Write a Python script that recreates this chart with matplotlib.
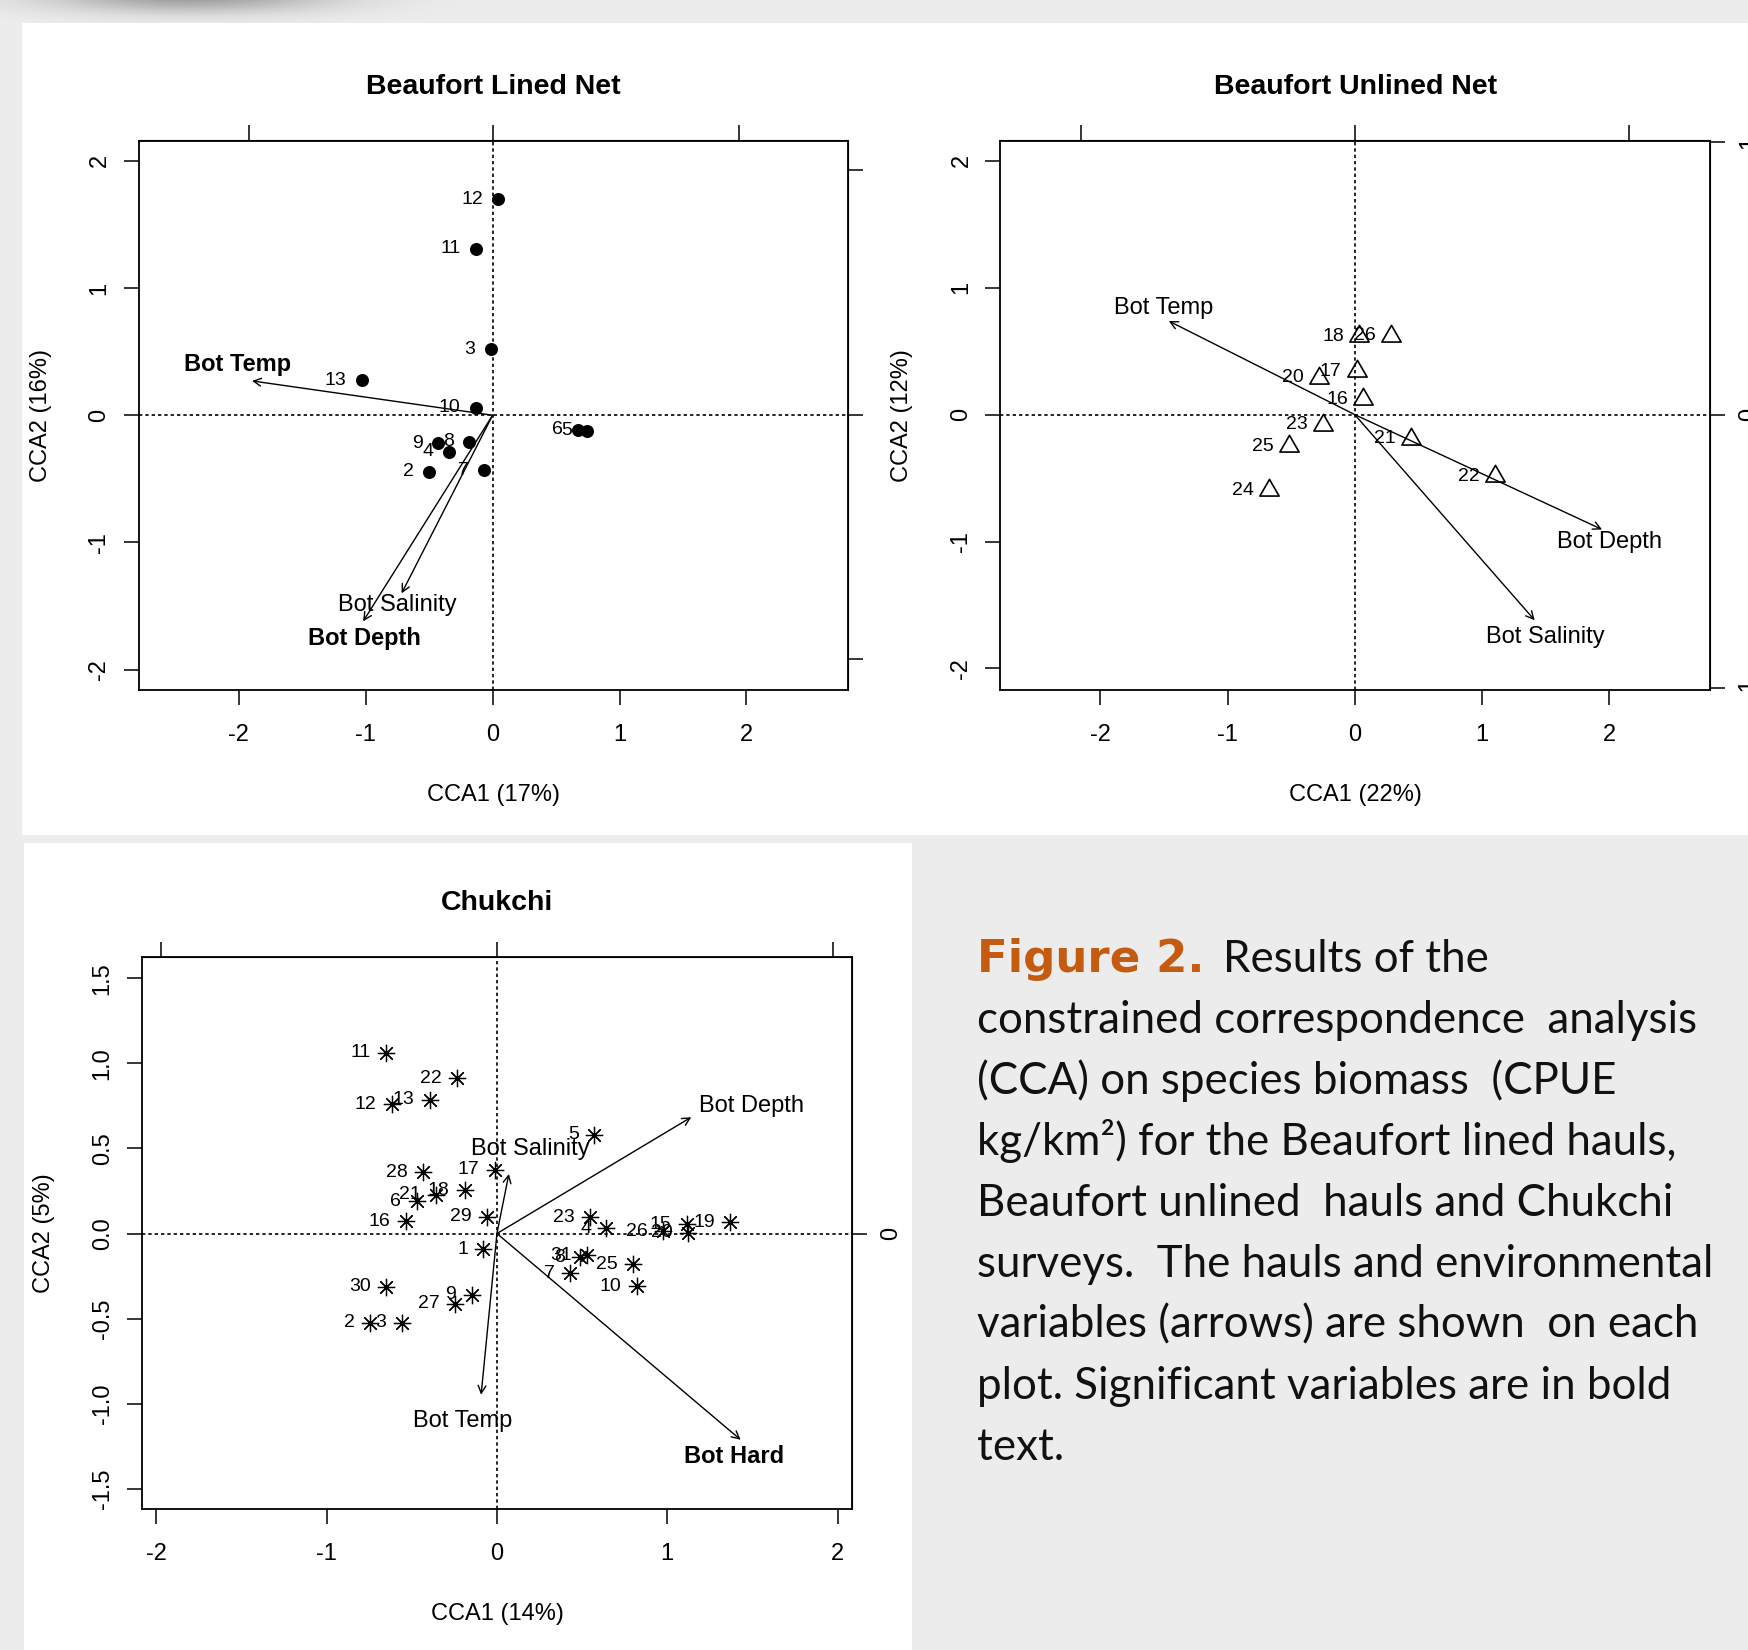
import numpy as np
import matplotlib
matplotlib.use('Agg')
import matplotlib.pyplot as plt
from matplotlib.patches import Rectangle
from matplotlib.path import Path

plt.rcParams['font.family'] = ['Liberation Sans', 'DejaVu Sans']

# ---------------------------------------------------------------- data
# Beaufort lined net (sites)
bl_lab = ['12', '11', '3', '13', '10', '9', '4', '8', '2', '7', '6', '5']
bl_x = [0.045, -0.127, -0.016, -1.032, -0.134, -0.433, -0.347, -0.184, -0.50, -0.069, 0.675, 0.745]
bl_y = [1.70, 1.31, 0.519, 0.275, 0.060, -0.22, -0.288, -0.21, -0.446, -0.432, -0.115, -0.123]
bl_env = ['Bot Temp', 'Bot Salinity', 'Bot Depth']
bl_env_x = [-1.896, -0.717, -1.02]
bl_env_y = [0.27, -1.40, -1.62]
bl_env_lx = [-2.01, -0.75, -1.007]
bl_env_ly = [0.40, -1.495, -1.756]
bl_env_bold = [True, False, True]

# Beaufort unlined net (sites)
bu_lab = ['18', '26', '17', '20', '16', '23', '25', '24', '21', '22']
bu_x = [0.036, 0.285, 0.017, -0.284, 0.067, -0.248, -0.515, -0.672, 0.44, 1.105]
bu_y = [0.616, 0.622, 0.341, 0.289, 0.123, -0.079, -0.25, -0.596, -0.191, -0.486]
bu_env = ['Bot Temp', 'Bot Depth', 'Bot Salinity']
bu_env_x = [-1.462, 1.945, 1.415]
bu_env_y = [0.737, -0.905, -1.62]
bu_env_lx = [-1.50, 2.0, 1.50]
bu_env_ly = [0.84, -1.0, -1.756]
bu_env_bold = [False, False, False]

# Chukchi (sites)
ch_lab = ['11', '22', '12', '13', '5', '28', '17', '18', '21', '6', '16', '29', '23', '4',
          '15', '19', '20', '26', '8', '31', '7', '25', '10', '1', '30', '9', '27', '2', '3']
ch_x = [-0.652, -0.237, -0.618, -0.393, 0.570, -0.433, -0.012, -0.188, -0.358, -0.472, -0.534,
        -0.061, 0.545, 0.642, 1.114, 1.37, 1.12, 0.977, 0.487, 0.530, 0.429, 0.797, 0.820,
        -0.08, -0.652, -0.149, -0.247, -0.746, -0.56]
ch_y = [1.063, 0.912, 0.759, 0.788, 0.582, 0.361, 0.376, 0.255, 0.229, 0.19, 0.073, 0.098,
        0.097, 0.03, 0.053, 0.067, 0.004, 0.014, -0.139, -0.129, -0.235, -0.182, -0.31,
        -0.094, -0.314, -0.359, -0.412, -0.525, -0.525]
ch_env = ['Bot Depth', 'Bot Salinity', 'Bot Temp', 'Bot Hard']
ch_env_x = [1.141, 0.070, -0.093, 1.431]
ch_env_y = [0.684, 0.350, -0.948, -1.213]
ch_env_lx = [1.493, 0.194, -0.203, 1.39]
ch_env_ly = [0.748, 0.498, -1.10, -1.313]
ch_env_bold = [False, False, False, True]

caption = ['constrained correspondence  analysis',
           '(CCA) on species biomass  (CPUE',
           'kg/km\u00b2) for the Beaufort lined hauls,',
           'Beaufort unlined  hauls and Chukchi',
           'surveys.  The hauls and environmental',
           'variables (arrows) are shown  on each',
           'plot. Significant variables are in bold',
           'text.']

# ---------------------------------------------------------------- layout
W, H = 1749, 1650
fig = plt.figure(figsize=(W / 100, H / 100), dpi=100)
fig.patch.set_facecolor('#ececec')

bg = fig.add_axes([0, 0, 1, 1])
bg.set_xlim(0, W)
bg.set_ylim(H, 0)
bg.axis('off')
bg.add_patch(Rectangle((22, 23), W - 22, 812, color='white', lw=0))
bg.add_patch(Rectangle((24, 843), 888, H - 843, color='white', lw=0))

# soft shadow at the top edge
gx, gy = np.meshgrid(np.arange(0, 620), np.arange(0, 60))
a = np.exp(-((gx - 190) / 140.0) ** 2 - ((gy + 4) / 16.0) ** 2) * 0.33
a[gy >= 23] *= 0.25
shadow = np.zeros(gx.shape + (4,))
shadow[..., 3] = a
bg.imshow(shadow, extent=(0, 620, 60, 0), interpolation='bilinear', zorder=3)


def fx(x):
    return x / W


def fy(y):
    return 1 - y / H


FS = 17
TL = 11


def make_panel(l, r, t, b, xlim, ylim, xt, yt, ytl, top_t, right_t, right_lab,
               title, xlab, ylab):
    ax = fig.add_axes([fx(l), fy(b), (r - l) / W, (b - t) / H])
    ax.set_facecolor('none')
    ax.set_xlim(*xlim)
    ax.set_ylim(*ylim)
    ax.set_xticks(xt)
    ax.set_xticklabels([('%g' % v) for v in xt])
    ax.set_yticks(yt)
    ax.set_yticklabels(ytl, rotation=90, va='center')
    ax.tick_params(axis='x', direction='out', length=TL, width=1.1, labelsize=FS, pad=13.7)
    ax.tick_params(axis='y', direction='out', length=TL, width=1.1, labelsize=FS, pad=9.2)
    for s in ax.spines.values():
        s.set_linewidth(1.3)
    ax.axhline(0, color='k', lw=1.2, ls=(0, (2, 1.8)), zorder=1)
    ax.axvline(0, color='k', lw=1.2, ls=(0, (2, 1.8)), zorder=1)

    sx = ax.secondary_xaxis('top')
    sx.set_xticks(top_t)
    sx.tick_params(direction='out', length=TL, width=1.1, labeltop=False)
    sy = ax.secondary_yaxis('right')
    sy.set_yticks(right_t)
    if right_lab is None:
        sy.tick_params(direction='out', length=TL, width=1.1, labelright=False)
    else:
        sy.set_yticklabels(right_lab, rotation=90, va='center')
        sy.tick_params(direction='out', length=TL, width=1.1, labelsize=FS, pad=9.2)

    fig.text(fx((l + r) / 2), fy(t - 54), title, fontsize=20.5, fontweight='bold',
             ha='center', va='center')
    fig.text(fx((l + r) / 2), fy(b + 105), xlab, fontsize=FS, ha='center', va='center')
    fig.text(fx(l - 98), fy((t + b) / 2), ylab, fontsize=FS, ha='center', va='center',
             rotation=90)
    return ax


def site_labels(ax, xs, ys, labs):
    for x, y, s in zip(xs, ys, labs):
        ax.annotate(s, (x, y), xytext=(-11, 0), textcoords='offset points',
                    ha='right', va='center', fontsize=14, zorder=4)


def env_arrows(ax, hx, hy, lx, ly, names, bold):
    for x, y, tx, ty, n, b in zip(hx, hy, lx, ly, names, bold):
        ax.annotate('', xy=(x, y), xytext=(0, 0),
                    arrowprops=dict(arrowstyle='->,head_length=0.55,head_width=0.28',
                                    lw=1.0, color='k', shrinkA=0, shrinkB=0))
        ax.text(tx, ty, n, ha='center', va='center', fontsize=FS,
                fontweight='bold' if b else 'normal', zorder=5)


# Beaufort lined net
ax1 = make_panel(138.5, 848, 140.5, 690, (-2.79, 2.80), (-2.16, 2.16),
                 [-2, -1, 0, 1, 2], [-2, -1, 0, 1, 2], ['-2', '-1', '0', '1', '2'],
                 [-1.92, 0, 1.94], [1.93, 0, -1.92], None,
                 'Beaufort Lined Net', 'CCA1 (17%)', 'CCA2 (16%)')
ax1.scatter(bl_x, bl_y, s=88, c='k', marker='o', linewidths=0, zorder=3)
site_labels(ax1, bl_x, bl_y, bl_lab)
env_arrows(ax1, bl_env_x, bl_env_y, bl_env_lx, bl_env_ly, bl_env, bl_env_bold)

# Beaufort unlined net
ax2 = make_panel(1000.5, 1710, 140.5, 690, (-2.786, 2.794), (-2.17, 2.16),
                 [-2, -1, 0, 1, 2], [-2, -1, 0, 1, 2], ['-2', '-1', '0', '1', '2'],
                 [-2.155, 0, 2.159], [2.147, 0, -2.156], ['1', '0', '-1'],
                 'Beaufort Unlined Net', 'CCA1 (22%)', 'CCA2 (12%)')
tri = Path([(0, 1), (0.866, -0.5), (-0.866, -0.5), (0, 1)],
           [Path.MOVETO, Path.LINETO, Path.LINETO, Path.CLOSEPOLY])
ax2.plot(bu_x, bu_y, ls='none', marker=tri, ms=16, mfc='none', mec='k', mew=1.2, zorder=3)
site_labels(ax2, bu_x, bu_y, bu_lab)
env_arrows(ax2, bu_env_x, bu_env_y, bu_env_lx, bu_env_ly, bu_env, bu_env_bold)

# Chukchi
ax3 = make_panel(141.7, 852.2, 957, 1509, (-2.086, 2.086), (-1.62, 1.626),
                 [-2, -1, 0, 1, 2], [-1.5, -1.0, -0.5, 0.0, 0.5, 1.0, 1.5],
                 ['-1.5', '-1.0', '-0.5', '0.0', '0.5', '1.0', '1.5'],
                 [-1.972, 0, 1.976], [0], ['0'],
                 'Chukchi', 'CCA1 (14%)', 'CCA2 (5%)')
ax3.plot(ch_x, ch_y, ls='none', marker=(8, 2, 0), ms=12.5, mec='k', mew=0.9, zorder=3)
site_labels(ax3, ch_x, ch_y, ch_lab)
env_arrows(ax3, ch_env_x, ch_env_y, ch_env_lx, ch_env_ly, ch_env, ch_env_bold)

# caption
fig.text(fx(977), fy(971.7), 'Figure 2.', fontsize=32.5, fontweight='bold',
         family='DejaVu Sans', color='#c55a11', va='baseline')
fig.text(fx(1223), fy(971.7), 'Results of the', fontsize=31.6, family='Lato',
         va='baseline', color='#111111')
for i, line in enumerate(caption):
    fig.text(fx(977), fy(971.7 + 61 * (i + 1)), line, fontsize=31.6, family='Lato',
             va='baseline', color='#111111')

fig.savefig('out.png', dpi=100, facecolor=fig.get_facecolor())
